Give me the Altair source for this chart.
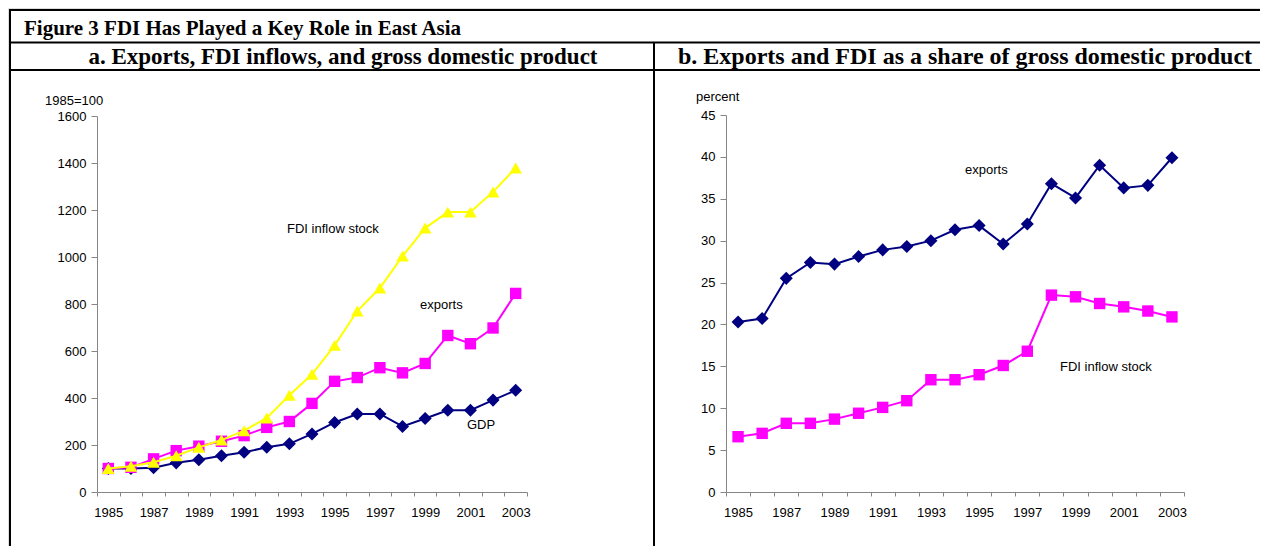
import altair as alt
import pandas as pd

# ---------------- data ----------------
years = list(range(1985, 2004))

# panel a: index, 1985 = 100
a_gdp = [100, 100, 103, 124, 137, 154, 169, 190, 205, 247, 296, 332, 332, 279, 313, 348, 348, 391, 433]
a_exports = [100, 105, 141, 176, 195, 216, 240, 275, 300, 377, 471, 487, 529, 507, 547, 666, 631, 698, 845]
a_fdi = [100, 110, 127, 154, 190, 221, 261, 315, 412, 501, 624, 770, 868, 1004, 1123, 1191, 1191, 1277, 1379]

# panel b: percent of GDP
b_exports = [20.3, 20.7, 25.5, 27.4, 27.2, 28.1, 28.9, 29.3, 30.0, 31.3, 31.8, 29.6, 32.0, 36.8, 35.1, 39.0, 36.3, 36.6, 39.9]
b_fdi = [6.6, 7.0, 8.2, 8.2, 8.7, 9.4, 10.1, 10.9, 13.4, 13.4, 14.0, 15.1, 16.8, 23.5, 23.3, 22.5, 22.1, 21.6, 20.9]

a_ticks = [0, 200, 400, 600, 800, 1000, 1200, 1400, 1600]
b_ticks = [0, 5, 10, 15, 20, 25, 30, 35, 40, 45]

main_title = "Figure 3 FDI Has Played a Key Role in East Asia"
title_a = "a. Exports, FDI inflows, and gross domestic product"
title_b = "b. Exports and FDI as a share of gross domestic product"

NAVY = "#000080"
MAGENTA = "#FF00FF"
YELLOW = "#FFFF00"
AXIS_GRAY = "#868686"
LABEL_FONT = "Liberation Sans"
TITLE_FONT = "Liberation Serif"
FS = 13

W, H = 1252, 538

def long_df(series):
    rows = []
    for name, vals in series.items():
        for y, v in zip(years, vals):
            rows.append({"year": y, "value": v, "series": name})
    return pd.DataFrame(rows)

dfA = long_df({"gdp": a_gdp, "exports": a_exports, "fdi": a_fdi})
dfB = long_df({"exports": b_exports, "fdi": b_fdi})

one = pd.DataFrame({"k": [0]})


def panel(df, xrange, yrange, ydomain, yticks, yoffset, specs):
    x = alt.X(
        "year:O",
        bandPosition=0.5,
        scale=alt.Scale(type="band", range=xrange, paddingInner=0, paddingOuter=0),
        axis=alt.Axis(
            orient="bottom", offset=-(H - yrange[0]), title=None, grid=False,
            labelAngle=0, labelOverlap=False, tickBand="extent",
            labelExpr="datum.value % 2 == 1 ? datum.label : ''",
            domainColor=AXIS_GRAY, tickColor=AXIS_GRAY, tickSize=4,
            labelPadding=10, labelFont=LABEL_FONT, labelFontSize=FS, labelColor="black",
        ),
    )
    y = alt.Y(
        "value:Q",
        scale=alt.Scale(domain=ydomain, range=yrange, nice=False, zero=True),
        axis=alt.Axis(
            orient="left", offset=yoffset, title=None, grid=False, values=yticks,
            format="d",
            domainColor=AXIS_GRAY, tickColor=AXIS_GRAY, tickSize=6,
            labelPadding=5, labelFont=LABEL_FONT, labelFontSize=FS, labelColor="black",
        ),
    )
    base = alt.Chart(df).encode(x=x, y=y)
    layers = []
    for name, color, shape, size in specs:
        sub = base.transform_filter(alt.datum.series == name)
        layers.append(sub.mark_line(color=color, strokeWidth=2))
        layers.append(sub.mark_point(shape=shape, filled=True, color=color, size=size, opacity=1))
    return alt.layer(*layers)


panelA = panel(
    dfA, [89, 519], [484, 108], [0, 1600], a_ticks, -89,
    [("gdp", NAVY, "diamond", 170), ("exports", MAGENTA, "square", 130), ("fdi", YELLOW, "triangle-up", 160)],
)
panelB = panel(
    dfB, [718, 1176], [484, 107], [0, 45], b_ticks, -718,
    [("fdi", MAGENTA, "square", 130), ("exports", NAVY, "diamond", 170)],
)


def hrule(y, x1, x2):
    return alt.Chart(one).mark_rule(color="black", strokeWidth=2).encode(
        x=alt.value(x1), x2=alt.value(x2), y=alt.value(y))


def vrule(x, y1, y2):
    return alt.Chart(one).mark_rule(color="black", strokeWidth=2).encode(
        x=alt.value(x), y=alt.value(y1), y2=alt.value(y2))


def label(text, x, y, size=FS, font=LABEL_FONT, bold=False, align="left", baseline="middle"):
    return alt.Chart(one).mark_text(
        font=font, fontSize=size, fontWeight="bold" if bold else "normal",
        align=align, baseline=baseline, color="black",
    ).encode(x=alt.value(x), y=alt.value(y), text=alt.value(text))


frame = [
    hrule(2, 1, W),
    vrule(2, 1, H),
    hrule(34.5, 1, W),
    hrule(62, 1, W),
    vrule(646, 34.5, H),
]

texts = [
    label(main_title, 16, 27, size=21, font=TITLE_FONT, bold=True, baseline="alphabetic"),
    label(title_a, 335, 56, size=23, font=TITLE_FONT, bold=True, align="center", baseline="alphabetic"),
    label(title_b, 957, 56, size=24, font=TITLE_FONT, bold=True, align="center", baseline="alphabetic"),
    label("1985=100", 37, 93),
    label("percent", 688, 89),
    label("FDI inflow stock", 279, 221),
    label("exports", 412, 297),
    label("GDP", 459, 417),
    label("exports", 957, 162),
    label("FDI inflow stock", 1052, 359),
]

chart = alt.layer(*frame, *texts, panelA, panelB).resolve_scale(
    x="independent", y="independent"
).properties(
    width=W, height=H, autosize=alt.AutoSizeParams(type="none"), padding=0,
).configure_view(stroke=None).configure(background="white")

chart.save("out.html", embed_options={"renderer": "svg", "actions": False})
